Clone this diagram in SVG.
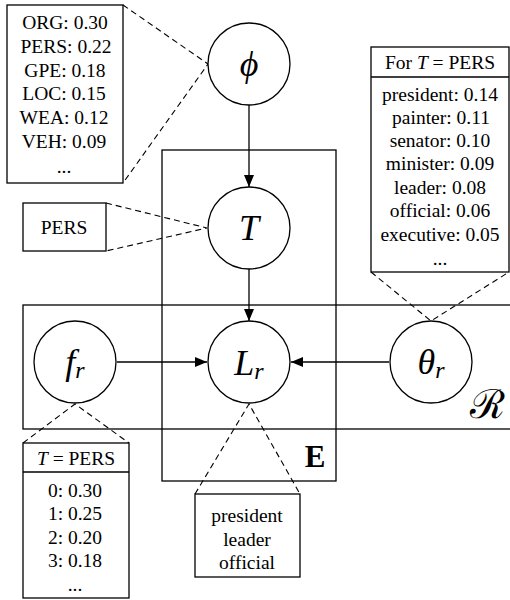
<svg xmlns="http://www.w3.org/2000/svg" width="510" height="600" viewBox="0 0 510 600">
<defs>
<marker id="ah" markerWidth="12" markerHeight="10" refX="12" refY="5" orient="auto" markerUnits="userSpaceOnUse">
<path d="M0,0 L12,5 L0,10 Z" fill="#000"/>
</marker>
</defs>
<style>
.nd{fill:#fff;stroke:#000;stroke-width:1.3}
.bx{fill:#fff;stroke:#000;stroke-width:1.3}
.pl{fill:none;stroke:#000;stroke-width:1.3}
.ds{fill:none;stroke:#000;stroke-width:1.1;stroke-dasharray:6,4}
.ar{fill:none;stroke:#000;stroke-width:1.3;marker-end:url(#ah)}
.t{font-family:'Liberation Serif','Times New Roman',serif;font-size:19.5px;text-anchor:middle;fill:#000}
.m{font-family:'Liberation Serif','Times New Roman',serif;font-style:italic;font-size:36px;text-anchor:middle;fill:#000}
.s{font-size:24px}
</style>
<rect width="510" height="600" fill="#fff"/>
<g id="plates">
<rect class="pl" x="162" y="150" width="174" height="331"/>
<rect class="pl" x="23" y="305" width="500" height="124"/>
<text x="315" y="467" font-family="'Liberation Serif',serif" font-weight="bold" font-size="31" text-anchor="middle">E</text>
<text x="487" y="418" font-family="'DejaVu Serif',serif" font-size="40" text-anchor="middle">ℛ</text>
</g>
<g id="connectors">
<line class="ar" x1="249" y1="105" x2="249" y2="187"/>
<line class="ar" x1="249" y1="269" x2="249" y2="321"/>
<line class="ar" x1="117" y1="362" x2="207" y2="362"/>
<line class="ar" x1="389" y1="362" x2="291" y2="362"/>
<polyline class="ds" points="123,5 208,64 123,183"/>
<polyline class="ds" points="106,203 207,228 106,251"/>
<polyline class="ds" points="371,272 431,321 509,272"/>
<polyline class="ds" points="23,443 75,404 129,443"/>
<polyline class="ds" points="195,494 249,404 300,494"/>
</g>
<g id="phi">
<circle class="nd" cx="249" cy="64" r="41"/>
<text class="m" x="249" y="76">ϕ</text>
</g>
<g id="T">
<circle class="nd" cx="249" cy="228" r="41"/>
<text class="m" x="249" y="240">T</text>
</g>
<g id="Lr">
<circle class="nd" cx="249" cy="362" r="41"/>
<text class="m" x="249" y="375">L<tspan class="s" dy="4">r</tspan></text>
</g>
<g id="fr">
<circle class="nd" cx="75" cy="362" r="41"/>
<text class="m" x="75" y="374">f<tspan class="s" dy="4">r</tspan></text>
</g>
<g id="thetar">
<circle class="nd" cx="431" cy="362" r="41"/>
<text class="m" x="431" y="374">θ<tspan class="s" dy="4">r</tspan></text>
</g>
<g id="phi-box">
<rect class="bx" x="7" y="5" width="116" height="178"/>
<text class="t" x="65" y="29">ORG: 0.30</text>
<text class="t" x="66" y="53">PERS: 0.22</text>
<text class="t" x="65" y="77">GPE: 0.18</text>
<text class="t" x="64" y="100">LOC: 0.15</text>
<text class="t" x="64" y="124">WEA: 0.12</text>
<text class="t" x="64" y="148">VEH: 0.09</text>
<text class="t" x="64" y="173">...</text>
</g>
<g id="T-box">
<rect class="bx" x="23" y="203" width="83" height="48"/>
<text class="t" x="64" y="234">PERS</text>
</g>
<g id="theta-box">
<rect class="bx" x="371" y="47" width="138" height="225"/>
<line class="pl" x1="371" y1="77" x2="509" y2="77"/>
<text class="t" x="440" y="69">For <tspan font-style="italic">T</tspan> = PERS</text>
<text class="t" x="440" y="101">president: 0.14</text>
<text class="t" x="441" y="124">painter: 0.11</text>
<text class="t" x="440" y="147">senator: 0.10</text>
<text class="t" x="440" y="170">minister: 0.09</text>
<text class="t" x="440" y="194">leader: 0.08</text>
<text class="t" x="440" y="217">official: 0.06</text>
<text class="t" x="440" y="241">executive: 0.05</text>
<text class="t" x="440" y="265">...</text>
</g>
<g id="f-box">
<rect class="bx" x="23" y="443" width="106" height="155"/>
<line class="pl" x1="23" y1="472" x2="129" y2="472"/>
<text class="t" x="76" y="465"><tspan font-style="italic">T</tspan> = PERS</text>
<text class="t" x="75" y="497">0: 0.30</text>
<text class="t" x="75" y="520">1: 0.25</text>
<text class="t" x="75" y="544">2: 0.20</text>
<text class="t" x="75" y="567">3: 0.18</text>
<text class="t" x="75" y="591">...</text>
</g>
<g id="L-box">
<rect class="bx" x="195" y="494" width="105" height="83"/>
<text class="t" x="247" y="522">president</text>
<text class="t" x="247" y="546">leader</text>
<text class="t" x="247" y="569">official</text>
</g>
</svg>
